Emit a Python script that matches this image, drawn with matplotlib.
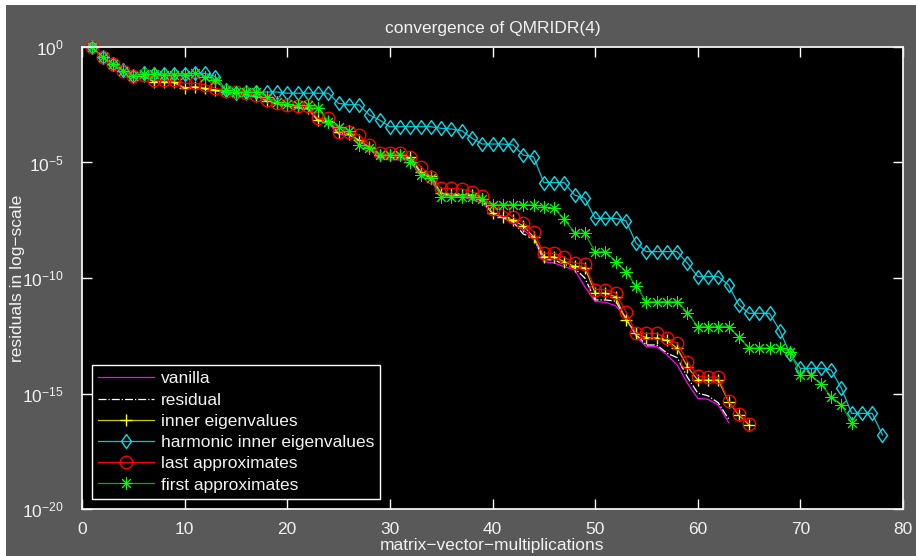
import numpy as np
import matplotlib
matplotlib.use("Agg")
import matplotlib.pyplot as plt
from matplotlib.patches import Rectangle

plt.rcParams['font.family'] = ['Liberation Sans', 'DejaVu Sans']
plt.rcParams['mathtext.fontset'] = 'custom'
plt.rcParams['mathtext.rm'] = 'Liberation Sans'

# log10 of the residual norms, one value per matrix-vector multiplication (k = 1, 2, ...)
vanilla = [0, -0.45, -0.75, -1.02, -1.26, -1.25, -1.5, -1.52, -1.55, -1.75,
           -1.75, -1.83, -1.9, -1.97, -2.0, -2.07, -2.15, -2.3, -2.45, -2.55,
           -2.65, -2.7, -3.2, -3.3, -3.78, -3.82, -4.05, -4.4, -4.85, -4.88,
           -4.88, -4.9, -5.45, -5.8, -6.4, -6.45, -6.5, -6.6, -6.75, -7.2,
           -7.4, -7.63, -7.92, -8.25, -9.29, -9.35, -9.51, -9.65, -10.38, -11.02,
           -11.05, -11.2, -11.7, -12.54, -12.97, -12.97, -13.33, -13.77, -14.56, -15.21,
           -15.25, -15.5, -16.25]
residual = [0, -0.45, -0.75, -1.02, -1.26, -1.25, -1.5, -1.51, -1.54, -1.77,
            -1.74, -1.81, -1.88, -1.95, -1.99, -2.05, -2.14, -2.31, -2.44, -2.54,
            -2.62, -2.66, -3.18, -3.25, -3.72, -3.78, -4.04, -4.36, -4.76, -4.78,
            -4.78, -4.82, -5.42, -5.7, -6.36, -6.42, -6.45, -6.5, -6.66, -7.2,
            -7.37, -7.56, -8.1, -8.25, -9.2, -9.22, -9.4, -9.58, -10.0, -10.95,
            -10.95, -11.0, -11.76, -12.45, -12.9, -12.9, -13.25, -13.45, -14.3, -14.98,
            -15.1, -15.4, -16.1]
inner = [0, -0.45, -0.75, -1.02, -1.26, -1.25, -1.5, -1.5, -1.53, -1.79,
         -1.72, -1.79, -1.86, -1.93, -1.97, -2.03, -2.12, -2.32, -2.43, -2.53,
         -2.6, -2.62, -3.16, -3.2, -3.67, -3.75, -4.03, -4.33, -4.68, -4.68,
         -4.68, -4.75, -5.4, -5.6, -6.33, -6.38, -6.4, -6.4, -6.58, -7.2,
         -7.34, -7.49, -7.75, -8.21, -9.08, -9.08, -9.29, -9.5, -9.55, -10.66,
         -10.66, -10.81, -11.82, -12.4, -12.58, -12.6, -12.7, -13.04, -13.84, -14.42,
         -14.42, -14.42, -15.35, -15.93, -16.36]
harmonic = [0, -0.45, -0.75, -1.0, -1.26, -1.14, -1.17, -1.17, -1.17, -1.17,
            -1.14, -1.14, -1.28, -1.84, -1.98, -1.95, -1.95, -1.95, -1.95, -2.0,
            -2.0, -2.0, -2.0, -2.0, -2.44, -2.5, -2.5, -2.94, -3.16, -3.45,
            -3.45, -3.45, -3.45, -3.45, -3.52, -3.55, -3.62, -3.95, -4.2, -4.2,
            -4.2, -4.24, -4.68, -4.75, -5.87, -5.87, -5.87, -6.41, -6.55, -7.42,
            -7.42, -7.42, -7.52, -8.5, -8.86, -8.86, -8.86, -8.86, -9.36, -9.94,
            -9.94, -9.94, -10.3, -11.17, -11.53, -11.53, -11.53, -12.28, -13.3, -13.91,
            -13.91, -13.91, -13.98, -14.78, -15.86, -15.86, -15.86, -16.8]
last = [0, -0.45, -0.75, -1.02, -1.26, -1.21, -1.43, -1.45, -1.45, -1.57,
        -1.57, -1.64, -1.79, -1.89, -1.93, -2.0, -2.08, -2.29, -2.41, -2.51,
        -2.56, -2.56, -3.09, -3.09, -3.67, -3.67, -3.81, -4.24, -4.6, -4.6,
        -4.6, -4.75, -5.18, -5.61, -6.12, -6.12, -6.15, -6.26, -6.46, -7.0,
        -7.05, -7.37, -7.6, -7.99, -8.93, -8.93, -9.1, -9.36, -9.38, -10.5,
        -10.5, -10.65, -11.46, -12.4, -12.4, -12.4, -12.61, -12.83, -13.62, -14.25,
        -14.3, -14.3, -15.33, -15.88, -16.3]
first = [0, -0.45, -0.75, -1.02, -1.26, -1.17, -1.17, -1.21, -1.21, -1.21,
         -1.14, -1.28, -1.43, -1.86, -1.93, -1.93, -1.93, -2.15, -2.4, -2.48,
         -2.53, -2.53, -2.65, -3.23, -3.45, -3.62, -4.24, -4.39, -4.68, -4.68,
         -4.68, -4.96, -5.54, -5.69, -6.48, -6.48, -6.48, -6.5, -6.6, -6.84,
         -6.82, -6.82, -6.82, -6.84, -6.91, -6.98, -7.46, -8.04, -8.07, -8.86,
         -8.86, -9.29, -9.72, -10.36, -11.02, -11.02, -11.02, -11.02, -11.5, -12.1,
         -12.1, -12.1, -12.1, -12.57, -13.03, -13.03, -13.03, -13.05, -13.19, -14.22,
         -14.22, -14.59, -15.14, -15.5, -16.26]

bg = '#595959'
fs = 12.5
fig = plt.figure(figsize=(9.16, 5.56), dpi=100, facecolor='white')
fig.patches.append(Rectangle((6 / 916, 0), 1, 551 / 556, transform=fig.transFigure,
                             facecolor=bg, edgecolor='none', zorder=-10))
ax = fig.add_axes([82 / 916, 47 / 556, 821 / 916, 462 / 556])
ax.set_facecolor('black')

diamond = [(0, 1), (0.72, 0), (0, -1), (-0.72, 0), (0, 1)]


def kk(vals):
    return np.arange(1, len(vals) + 1)


def pw(vals):
    return 10.0 ** np.array(vals)


lw = 0.9
ax.semilogy(kk(vanilla), pw(vanilla), '-', color='#ff00ff', lw=lw, label='vanilla', clip_on=False)
ax.semilogy(kk(residual), pw(residual), '-.', color='white', lw=lw, label='residual', clip_on=False)
ax.semilogy(kk(inner), pw(inner), '-', color='#c8c800', lw=lw, marker='+', ms=9,
            mec='yellow', mew=1.0, label='inner eigenvalues', clip_on=False)
ax.semilogy(kk(harmonic), pw(harmonic), '-', color='#00c8d8', lw=lw, marker=diamond, ms=10,
            mec='#00e0f0', mfc='none', mew=1.0, label='harmonic inner eigenvalues', clip_on=False)
ax.semilogy(kk(last), pw(last), '-', color='#ff0000', lw=lw, marker='o', ms=9,
            mec='#ff0000', mfc='none', mew=1.0, label='last approximates', clip_on=False)
ax.semilogy(kk(first), pw(first), '-', color='#00b000', lw=lw, marker=(8, 2, 0), ms=9,
            mec='#00ff00', mew=0.7, label='first approximates', clip_on=False)

ax.set_xlim(0, 80)
ax.set_ylim(1e-20, 1e0)
ax.set_xticks(np.arange(0, 81, 10))
ax.set_yticks([1e-20, 1e-15, 1e-10, 1e-5, 1e0])
ax.yaxis.set_minor_locator(matplotlib.ticker.NullLocator())
ax.tick_params(direction='in', top=True, right=True, length=7, width=1,
               color='white', labelcolor='#f2f2f2', labelsize=fs)
ax.tick_params(axis='x', pad=9)
ax.tick_params(axis='y', pad=13)
for s in ax.spines.values():
    s.set_color('#f2f2f2')
    s.set_linewidth(1.3)

ax.set_title('convergence of QMRIDR(4)', color='#f2f2f2', fontsize=fs, pad=10)
ax.set_xlabel('matrix\u2212vector\u2212multiplications', color='#f2f2f2', fontsize=fs, labelpad=1)
ax.set_ylabel('residuals in log\u2212scale', color='#f2f2f2', fontsize=fs)
ax.yaxis.set_label_coords(-0.069, 0.5)

leg = ax.legend(loc='lower left', numpoints=1, fontsize=fs, handlelength=3.2,
                labelspacing=0.35, borderaxespad=0.6, fancybox=False, framealpha=1,
                facecolor='black', edgecolor='white', borderpad=0.35, handletextpad=0.4)
for t in leg.get_texts():
    t.set_color('#f2f2f2')
leg.get_frame().set_linewidth(1.0)

fig.savefig('out.png', dpi=100, facecolor=fig.get_facecolor())
